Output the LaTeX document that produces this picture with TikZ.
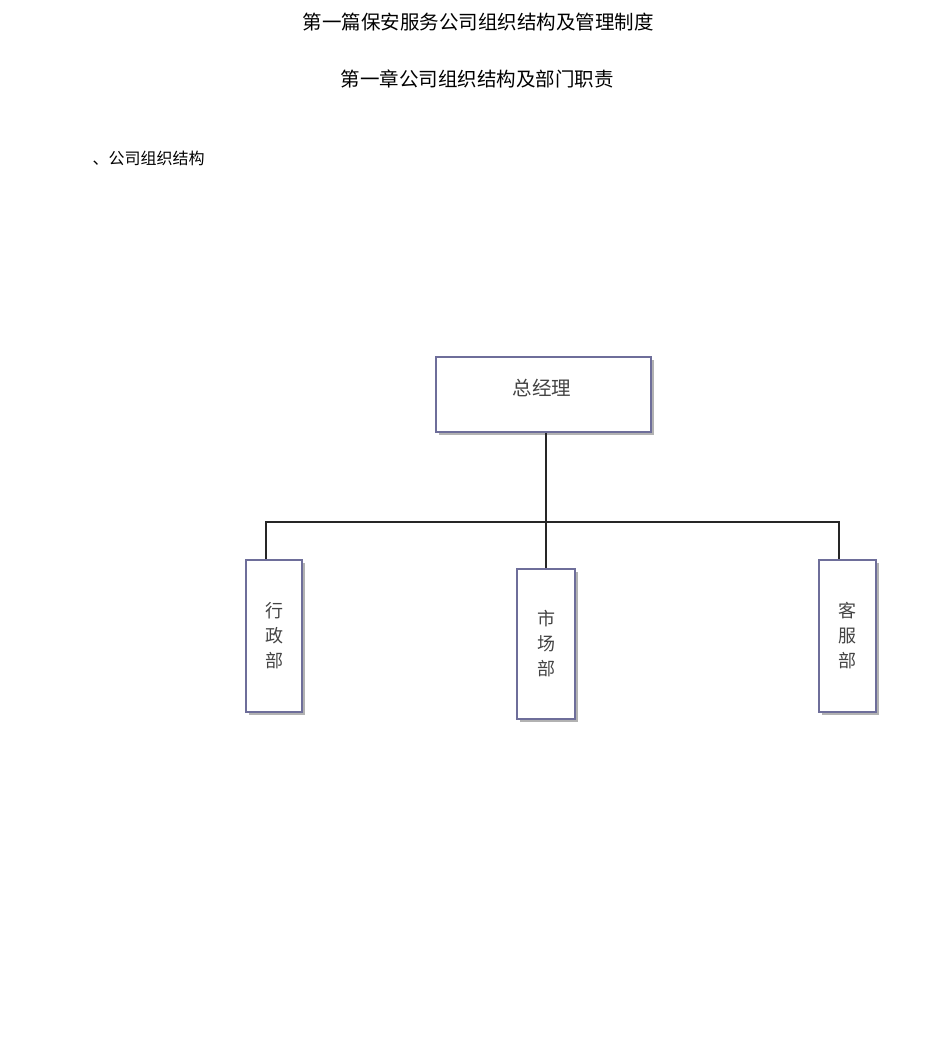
\documentclass[tikz,border=0pt]{standalone}
\usepackage{fontspec}
\newfontfamily\cjk{Noto Sans CJK SC}
\usetikzlibrary{shadows}
\definecolor{bord}{HTML}{6E6E9A}
\definecolor{txt}{HTML}{444444}
\tikzset{
 box/.style={draw=bord,line width=1.6pt,fill=white,inner sep=0pt,
   drop shadow={shadow xshift=2.5pt,shadow yshift=-2.5pt,fill=gray!60,opacity=1},
   font=\cjk\fontsize{18}{25}\selectfont,text=txt,align=center},
 link/.style={line width=2pt,black!85},
 title/.style={font=\cjk\fontsize{19.5}{22}\selectfont,anchor=center},
 lbl/.style={font=\cjk\fontsize{19.5}{22}\selectfont,text=txt},
}
\begin{document}
\begin{tikzpicture}[x=1pt,y=-1pt]
\useasboundingbox[fill=white] (0,0) rectangle (950,1047);
\node[title] (t1) at (478,22) {第一篇保安服务公司组织结构及管理制度};
\node[title] (t2) at (477,79) {第一章公司组织结构及部门职责};
\node[font=\cjk\fontsize{16}{18}\selectfont,anchor=west] (t3) at (89,158) {、公司组织结构};
\node[box,minimum width=215pt,minimum height=75pt] (gm) at (543.5,394.5) {};
\node[lbl] (gml) at (542,388) {总经理};
\node[box,minimum width=56pt,minimum height=152pt] (a) at (274,636) {行\\政\\部};
\node[box,minimum width=58pt,minimum height=150pt] (b) at (546,644) {市\\场\\部};
\node[box,minimum width=57pt,minimum height=152pt] (c) at (847.5,636) {客\\服\\部};
\coordinate (j) at (546,522);
\draw[link] (gm.south -| j) -- (b.north);
\draw[link] (a.north -| 266,0) |- (j) -| (c.north -| 839,0);
\end{tikzpicture}
\end{document}
